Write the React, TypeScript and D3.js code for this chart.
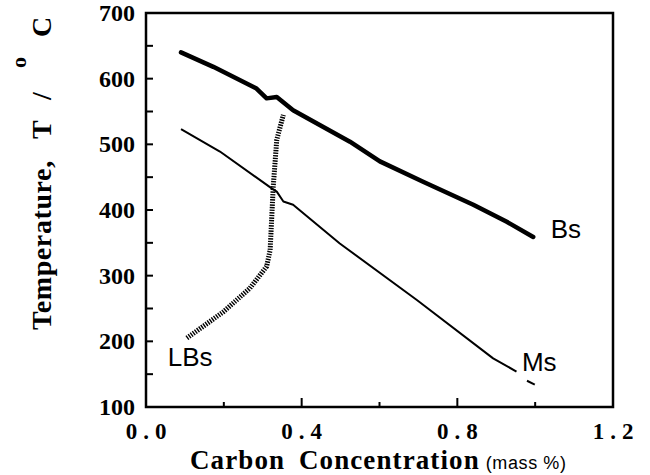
import React from "react";
import * as d3 from "d3";

type P = [number, number];

// Carbon (mass %) vs temperature (°C)
const bsCurve: P[] = [
  [0.09, 640], [0.173, 618], [0.284, 585], [0.31, 570], [0.336, 572], [0.378, 552],
  [0.524, 504], [0.601, 474], [0.712, 443], [0.841, 408], [0.927, 382], [0.995, 359],
];
const msCurve: P[] = [
  [0.09, 523], [0.19, 489], [0.323, 433], [0.336, 428], [0.353, 413], [0.378, 408],
  [0.498, 349], [0.696, 263], [0.892, 174], [0.952, 154],
];
const msTail: P[] = [[0.979, 140], [0.999, 134]];
const lbsCurve: P[] = [
  [0.105, 205], [0.199, 245], [0.267, 281], [0.31, 314], [0.319, 339],
  [0.327, 436], [0.336, 507], [0.353, 545],
];

const xTickLabels = [0, 0.4, 0.8, 1.2];
const xTicks = [0.2, 0.4, 0.6, 0.8, 1.0];
const xMajor = [0.4, 0.8];
const yTickLabels = [100, 200, 300, 400, 500, 600, 700];
const yTicks = [150, 200, 250, 300, 350, 400, 450, 500, 550, 600, 650];

const curveLabels = [
  { text: "Bs", x: 1.04, y: 357 },
  { text: "Ms", x: 0.966, y: 155 },
  { text: "LBs", x: 0.056, y: 163 },
];

const L = 146, R = 613, T = 13, B = 407;

export default function App() {
  const x = d3.scaleLinear().domain([0, 1.2]).range([L, R]);
  const y = d3.scaleLinear().domain([100, 700]).range([B, T]);
  const line = d3.line<P>().x((d) => x(d[0])).y((d) => y(d[1])).curve(d3.curveLinear);
  const serif = "'Liberation Serif', 'Times New Roman', serif";
  const sans = "'Liberation Sans', Arial, sans-serif";
  const ySeg = (yy: number, xx = 51) => `translate(${xx},${yy}) rotate(-90)`;

  return (
    <svg width={650} height={475} style={{ position: "absolute", left: 0, top: 0, background: "#fff" }}>
      <rect x={0} y={0} width={650} height={475} fill="#fff" />
      {/* frame */}
      <rect x={L} y={T} width={R - L} height={B - T} fill="none" stroke="#000" strokeWidth={2.5} />
      {/* y ticks */}
      {yTicks.map((t) => (
        <line key={"yt" + t} x1={L} x2={L + 7} y1={y(t)} y2={y(t)} stroke="#000" strokeWidth={2} />
      ))}
      {/* x ticks */}
      {xTicks.map((t) => (
        <line key={"xt" + t} x1={x(t)} x2={x(t)} y1={B} y2={B - (xMajor.includes(t) ? 9 : 5)} stroke="#000" strokeWidth={2} />
      ))}
      {/* y tick labels */}
      {yTickLabels.map((t) => (
        <text key={"yl" + t} x={135} y={y(t) + 8} textAnchor="end" fontFamily={serif} fontWeight="bold" fontSize={24}>
          {t}
        </text>
      ))}
      {/* x tick labels */}
      {xTickLabels.map((t) => (
        <text key={"xl" + t} x={x(t) + 3} y={439} textAnchor="middle" fontFamily={serif} fontWeight="bold" fontSize={23} letterSpacing={6}>
          {t.toFixed(1)}
        </text>
      ))}
      {/* x title */}
      <text x={190} y={469} fontFamily={serif} fontWeight="bold" fontSize={27} letterSpacing={1.1} wordSpacing={6}>
        Carbon Concentration
        <tspan fontFamily={sans} fontWeight="normal" fontSize={18} dx={6} letterSpacing={0.6} wordSpacing={0}>(mass %)</tspan>
      </text>
      {/* y title */}
      <g fontFamily={serif} fontWeight="bold" fontSize={28}>
        <text transform={ySeg(330)} letterSpacing={0.6}>Temperature,</text>
        <text transform={ySeg(139)}>T</text>
        <text transform={ySeg(100)}>/</text>
        <text transform={ySeg(68, 26)} fontSize={22}>o</text>
        <text transform={ySeg(37)}>C</text>
      </g>
      {/* curves */}
      <path d={line(msCurve) || ""} fill="none" stroke="#000" strokeWidth={2} strokeLinejoin="round" />
      <path d={line(msTail) || ""} fill="none" stroke="#000" strokeWidth={2} />
      <path d={line(bsCurve) || ""} fill="none" stroke="#000" strokeWidth={4.5} strokeLinejoin="round" strokeLinecap="round" />
      <path d={line(lbsCurve) || ""} fill="none" stroke="#000" strokeWidth={5} strokeDasharray="1.4 1.2" />
      {curveLabels.map((c) => (
        <text key={c.text} x={x(c.x)} y={y(c.y)} fontFamily={sans} fontSize={26}>
          {c.text}
        </text>
      ))}
    </svg>
  );
}
